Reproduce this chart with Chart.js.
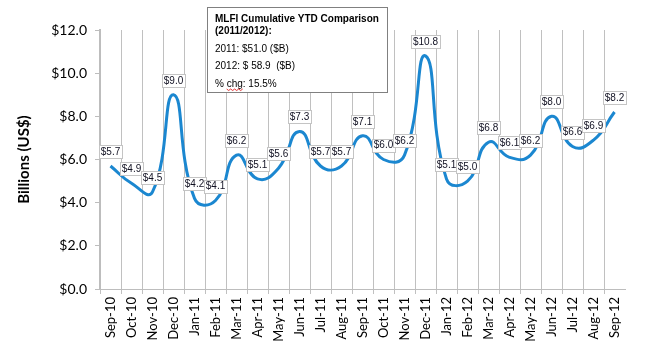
<!DOCTYPE html>
<html>
<head>
<meta charset="utf-8">
<script src="https://cdn.jsdelivr.net/npm/chart.js"></script>
<style>
  body { margin: 0; padding: 0; background: white; }
  #wrap { width: 650px; height: 350px; }
</style>
</head>
<body>
<div id="wrap"><canvas id="myChart" width="650" height="350"></canvas></div>
<script>
// monthly values, billions of US$
const months = [
  "Sep-10", "Oct-10", "Nov-10", "Dec-10", "Jan-11", "Feb-11", "Mar-11", "Apr-11", "May-11",
  "Jun-11", "Jul-11", "Aug-11", "Sep-11", "Oct-11", "Nov-11", "Dec-11", "Jan-12", "Feb-12",
  "Mar-12", "Apr-12", "May-12", "Jun-12", "Jul-12", "Aug-12", "Sep-12"
];
const values = [
  5.7, 4.9, 4.5, 9.0, 4.2, 4.1, 6.2, 5.1, 5.6,
  7.3, 5.7, 5.7, 7.1, 6.0, 6.2, 10.8, 5.1, 5.0,
  6.8, 6.1, 6.2, 8.0, 6.6, 6.9, 8.2
];
const noteTitle = ["MLFI Cumulative YTD Comparison", "(2011/2012):"];
const noteLines = ["2011: $51.0 ($B)", "2012: $ 58.9  ($B)", "% chg: 15.5%"];

const money = v => "$" + Number(v).toFixed(1);

// value boxes above each point
const valueLabels = {
  id: "valueLabels",
  afterDatasetsDraw(chart) {
    const ctx = chart.ctx;
    const meta = chart.getDatasetMeta(0);
    ctx.save();
    ctx.font = "10px 'Liberation Sans', Arial, sans-serif";
    ctx.textAlign = "center";
    ctx.textBaseline = "middle";
    meta.data.forEach((pt, i) => {
      const txt = money(values[i]);
      const w = ctx.measureText(txt).width + 4;
      const h = 13;
      const cx = pt.x, cy = pt.y - 14.5;
      ctx.fillStyle = "#ffffff";
      ctx.fillRect(Math.round(cx - w / 2) + 0.5, Math.round(cy - h / 2) + 0.5, Math.round(w), h);
      ctx.strokeStyle = "#c4c4c4";
      ctx.lineWidth = 1;
      ctx.strokeRect(Math.round(cx - w / 2) + 0.5, Math.round(cy - h / 2) + 0.5, Math.round(w), h);
      ctx.fillStyle = "#111122";
      ctx.fillText(txt, cx, cy + 0.5);
    });
    ctx.restore();
  }
};

// comparison note box
const noteBox = {
  id: "noteBox",
  afterDraw(chart) {
    const ctx = chart.ctx;
    const x = 207.5, y = 7.5, w = 180, h = 85;
    ctx.save();
    ctx.fillStyle = "#ffffff";
    ctx.fillRect(x, y, w, h);
    ctx.strokeStyle = "#808080";
    ctx.lineWidth = 1;
    ctx.strokeRect(x, y, w, h);
    ctx.fillStyle = "#000000";
    ctx.textBaseline = "middle";
    ctx.textAlign = "left";
    ctx.font = "bold 10px 'Liberation Sans', Arial, sans-serif";
    ctx.fillText(noteTitle[0], 215, 19);
    ctx.fillText(noteTitle[1], 215, 31);
    ctx.font = "10px 'Liberation Sans', Arial, sans-serif";
    ctx.fillText(noteLines[0], 215, 49);
    ctx.fillText(noteLines[1], 215, 66.5);
    ctx.fillText(noteLines[2], 215, 84);
    // spell-check squiggle under "chg"
    const sx = 215 + ctx.measureText("% ").width;
    const sw = ctx.measureText("chg").width;
    ctx.strokeStyle = "#e03030";
    ctx.lineWidth = 1;
    ctx.beginPath();
    for (let k = 0; k <= sw; k += 2) {
      const yy = 89 + ((k / 2) % 2 === 0 ? 0 : 1.5);
      if (k === 0) ctx.moveTo(sx + k, yy); else ctx.lineTo(sx + k, yy);
    }
    ctx.stroke();
    ctx.restore();
  }
};

const ctx = document.getElementById("myChart").getContext("2d");
new Chart(ctx, {
  type: "line",
  data: {
    labels: months,
    datasets: [{
      data: values,
      borderColor: "#1b87d0",
      borderWidth: 3,
      tension: 0.5,
      pointRadius: 0,
      fill: false
    }]
  },
  options: {
    responsive: false,
    animation: false,
    layout: { padding: { top: 30, right: 25, left: 0, bottom: 0 } },
    plugins: { legend: { display: false }, tooltip: { enabled: false } },
    scales: {
      x: {
        offset: true,
        grid: {
          offset: true,
          color: c => (c.type === "tick" ? "#c0c0c0" : "rgba(0,0,0,0)"),
          lineWidth: 1,
          tickLength: 5
        },
        border: { color: "#bdbdbd", width: 1 },
        ticks: {
          autoSkip: false,
          maxRotation: 90,
          minRotation: 90,
          padding: 3,
          color: "#000000",
          font: { family: "Lato, 'Open Sans', sans-serif", size: 13 }
        },
        afterFit: s => { s.height = 61; }
      },
      y: {
        min: 0,
        max: 12,
        grid: { drawOnChartArea: false, drawTicks: true, tickLength: 5, color: "#bdbdbd" },
        border: { color: "#bdbdbd", width: 2 },
        ticks: {
          stepSize: 2,
          padding: 8,
          color: "#000000",
          font: { family: "Lato, 'Open Sans', sans-serif", size: 14 },
          callback: v => money(v)
        },
        title: {
          display: true,
          text: "Billions (US$)",
          color: "#000000",
          font: { family: "Lato, 'Open Sans', sans-serif", size: 15, weight: "bold" },
          padding: { top: 15, bottom: 0 }
        },
        afterFit: s => { s.width = 100; }
      }
    }
  },
  plugins: [valueLabels, noteBox]
});
</script>
</body>
</html>
